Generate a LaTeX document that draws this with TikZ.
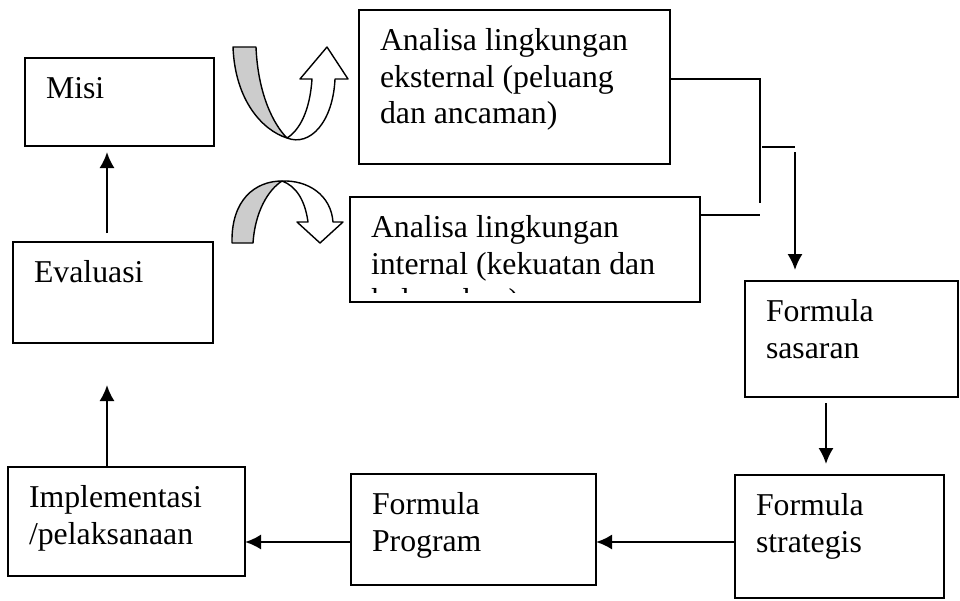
\documentclass[tikz,border=0pt]{standalone}
\usepackage{fontspec}
\setmainfont{Liberation Serif}
\usepackage{tikz}
\usetikzlibrary{arrows.meta, positioning, calc}

% text of a box: fixed size, first baseline and left inset as in the figure
\newcommand{\boxfont}{\fontsize{22.6pt}{26pt}\selectfont}
\newcommand{\boxbody}[3]{%
  \parbox[t][#2][t]{#1}{\raggedright\leftskip=0.525cm
    \rule{0pt}{1.02cm}#3}}

\begin{document}
\begin{tikzpicture}[
    x=0.025cm, y=-0.025cm, >=Latex,
    box/.style={draw, line width=1.1pt, inner sep=0pt, outer sep=0pt,
                anchor=north west, font=\boxfont},
    link/.style={line width=1.5pt},
    arr/.style={-{Latex[length=0.4cm, width=0.38cm]}, line width=1.6pt},
    ribbon/.style={draw, line width=1pt, line join=round}
]
\useasboundingbox (0,0) rectangle (960,600);

% --- Left column: mission and evaluation.
\node[box] (misi) at (25,58)  {\boxbody{4.725cm}{2.2cm}{Misi}};
\node[box] (eval) at (13,242) {\boxbody{5cm}{2.525cm}{Evaluasi}};

% --- Environment analysis (the internal box cuts its last line).
\node[box] (ekst) at (359,10)
    {\boxbody{7.775cm}{3.85cm}{Analisa lingkungan\\eksternal (peluang\\dan ancaman)}};
\begin{scope}
  \clip (350,197) rectangle (700,292);
  \node[box, draw=none] (intern) at (350,197)
      {\boxbody{8.75cm}{2.625cm}{Analisa lingkungan\\internal (kekuatan dan\\kelemahan)}};
\end{scope}
\draw[line width=1.1pt] (intern.north west) rectangle (intern.south east);

% --- Right column and bottom row.
\node[box] (sas)   at (745,281) {\boxbody{5.325cm}{2.9cm}{Formula\\sasaran}};
\node[box] (strat) at (735,475) {\boxbody{5.225cm}{3.075cm}{Formula\\strategis}};
\node[box] (prog)  at (351,474) {\boxbody{6.125cm}{2.775cm}{Formula\\Program}};
\node[box] (impl)  at (8,467)   {\boxbody{5.925cm}{2.725cm}{Implementasi\\/pelaksanaan}};

% --- Ribbon arrows between mission and the two analyses.
\fill[black!20] (233,47) .. controls (235,100) and (262,130) .. (287,138)
    .. controls (274,125) and (258,95) .. (256,47) -- cycle;
\draw[ribbon] (233,47) .. controls (235,100) and (262,130) .. (287,138)
    .. controls (274,125) and (258,95) .. (256,47) -- cycle;
\draw[ribbon, fill=white] (287,138) .. controls (310,147) and (333,122) .. (335,79)
    -- (348,79) -- (327,47) -- (300,79) -- (312,79)
    .. controls (310,110) and (300,130) .. (287,138) -- cycle;

\fill[black!20] (232,243) .. controls (231,200) and (255,181) .. (282,181)
    .. controls (268,190) and (255,212) .. (253,243) -- cycle;
\draw[ribbon] (232,243) .. controls (231,200) and (255,181) .. (282,181)
    .. controls (268,190) and (255,212) .. (253,243) -- cycle;
\draw[ribbon, fill=white] (282,181) .. controls (308,180) and (331,195) .. (333,222)
    -- (343,222) -- (320,243) -- (297,222) -- (308,222)
    .. controls (305,200) and (296,186) .. (282,181) -- cycle;

% --- Bracket joining both analyses, then down to the goals.
\coordinate (topj) at (760,79);
\coordinate (brk)  at (760,203);
\coordinate (intj) at (760,215);
\coordinate (midj) at (762,147);
\coordinate (stub) at (795,147);
\draw[link] (ekst.east |- topj) -| (brk);
\draw[link] (intern.east |- intj) -- (intj);
\draw[link] (midj) -- (stub);
\draw[arr, shorten <=0.125cm, shorten >=0.275cm] (stub) -- (stub |- sas.north);

% --- Main chain of arrows.
\coordinate (colS) at (826,0);
\coordinate (rowB) at (0,542);
\coordinate (colL) at (107,0);
\draw[arr, shorten <=0.15cm, shorten >=0.275cm] (sas.south -| colS) -- (strat.north -| colS);
\draw[arr] (strat.west |- rowB) -- (prog.east |- rowB);
\draw[arr] (prog.west |- rowB)  -- (impl.east |- rowB);
\draw[arr, shorten >=1.05cm] (impl.north -| colL) -- (eval.south -| colL);
\draw[arr, shorten <=0.225cm, shorten >=0.15cm] (eval.north -| colL) -- (misi.south -| colL);

\end{tikzpicture}
\end{document}
